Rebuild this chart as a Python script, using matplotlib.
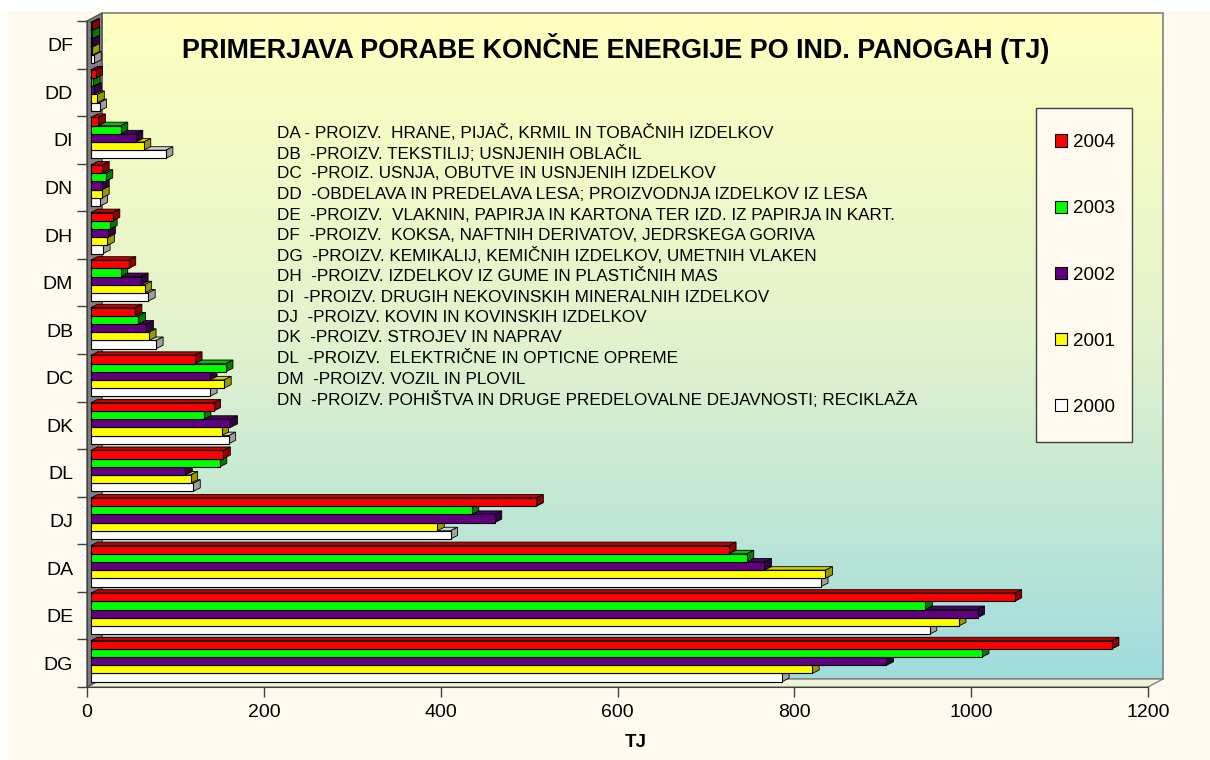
import matplotlib
matplotlib.use("Agg")
import matplotlib.pyplot as plt
import numpy as np
from matplotlib.patches import Polygon, Rectangle, Patch
from matplotlib import transforms

plt.rcParams['font.family'] = ['Liberation Sans', 'DejaVu Sans']

# ---------------- data ----------------
categories = ["DG", "DE", "DA", "DJ", "DL", "DK", "DC", "DB", "DM", "DH", "DN", "DI", "DD", "DF"]
years = ["2000", "2001", "2002", "2003", "2004"]
v2000 = [782, 949, 826, 407, 116, 156, 135, 74, 65, 14, 11, 85, 10, 4]
v2001 = [816, 982, 831, 392, 113, 148, 151, 66, 61, 19, 13, 60, 7.5, 2]
v2002 = [900, 1003, 762, 457, 107, 158, 135, 63, 57, 20, 13, 51, 4, 2]
v2003 = [1008, 944, 742, 431, 146, 128, 153, 54, 34, 22, 17, 34, 2.6, 2]
v2004 = [1155, 1045, 722, 504, 150, 139, 118, 50, 43, 25, 13, 8.7, 5.5, 2]
series = [v2000, v2001, v2002, v2003, v2004]

title = "PRIMERJAVA PORABE KONČNE ENERGIJE PO IND. PANOGAH (TJ)"
xlabel = "TJ"
xticks = [0, 200, 400, 600, 800, 1000, 1200]
notes = [
    "DA - PROIZV.  HRANE, PIJAČ, KRMIL IN TOBAČNIH IZDELKOV",
    "DB  -PROIZV. TEKSTILIJ; USNJENIH OBLAČIL",
    "DC  -PROIZ. USNJA, OBUTVE IN USNJENIH IZDELKOV",
    "DD  -OBDELAVA IN PREDELAVA LESA; PROIZVODNJA IZDELKOV IZ LESA",
    "DE  -PROIZV.  VLAKNIN, PAPIRJA IN KARTONA TER IZD. IZ PAPIRJA IN KART.",
    "DF  -PROIZV.  KOKSA, NAFTNIH DERIVATOV, JEDRSKEGA GORIVA",
    "DG  -PROIZV. KEMIKALIJ, KEMIČNIH IZDELKOV, UMETNIH VLAKEN",
    "DH  -PROIZV. IZDELKOV IZ GUME IN PLASTIČNIH MAS",
    "DI  -PROIZV. DRUGIH NEKOVINSKIH MINERALNIH IZDELKOV",
    "DJ  -PROIZV. KOVIN IN KOVINSKIH IZDELKOV",
    "DK  -PROIZV. STROJEV IN NAPRAV",
    "DL  -PROIZV.  ELEKTRIČNE IN OPTICNE OPREME",
    "DM  -PROIZV. VOZIL IN PLOVIL",
    "DN  -PROIZV. POHIŠTVA IN DRUGE PREDELOVALNE DEJAVNOSTI; RECIKLAŽA",
]

front_c = ["#FFFFFF", "#FFFF00", "#600080", "#00FF00", "#FF0000"]
top_c = ["#D0D0D0", "#CCCC00", "#4A0066", "#00C000", "#C00000"]
side_c = ["#A0A0A0", "#999900", "#330044", "#008000", "#900000"]

# ---------------- layout ----------------
W, H = 1210, 760
fig = plt.figure(figsize=(W / 100, H / 100), dpi=100)
fig.patch.set_facecolor("white")

def fx(x):
    return x / W

def fy(y):
    return 1 - y / H

# cream chart area
fig.patches.append(Rectangle((fx(8), 0), 1 - fx(8), fy(11), transform=fig.transFigure,
                             facecolor="#FFFAF0", edgecolor="none", zorder=-5))

L, R, T, B = 87, 1148, 21, 687
ax = fig.add_axes([fx(L), fy(B), (R - L) / W, (B - T) / H])
ax.set_zorder(1)
ax.set_facecolor("none")
ncat = len(categories)
xmin, xmax = 0, 1200
ymin, ymax = -0.5, ncat - 0.5
sx = (xmax - xmin) / (R - L)   # data per px
sy = (ymax - ymin) / (B - T)

# back wall (gradient)
wdx, wdy = 15 * sx, 8 * sy
grad = np.linspace(0, 1, 256)
top_rgb = np.array([255, 255, 192]) / 255
mid_rgb = np.array([225, 242, 205]) / 255
bot_rgb = np.array([160, 220, 222]) / 255
img = np.zeros((256, 1, 3))
for i, t in enumerate(grad):
    if t < 0.5:
        img[i, 0] = top_rgb + (mid_rgb - top_rgb) * (t / 0.5)
    else:
        img[i, 0] = mid_rgb + (bot_rgb - mid_rgb) * ((t - 0.5) / 0.5)
ax.imshow(img, extent=[xmin + wdx, xmax + wdx, ymin + wdy, ymax + wdy], origin="upper",
          aspect="auto", zorder=0.1, clip_on=False, interpolation="bilinear")
ax.add_patch(Rectangle((xmin + wdx, ymin + wdy), xmax - xmin, ymax - ymin, fill=False,
                       edgecolor="#808080", lw=1.2, zorder=0.2, clip_on=False))
# floor
ax.add_patch(Polygon([(xmin, ymin), (xmax, ymin), (xmax + wdx, ymin + wdy), (xmin + wdx, ymin + wdy)],
                     closed=True, facecolor="#EEF6D8", edgecolor="#808080", lw=1, zorder=0.3, clip_on=False))
# left side wall
ax.add_patch(Polygon([(xmin, ymin), (xmin, ymax), (xmin + wdx, ymax + wdy), (xmin + wdx, ymin + wdy)],
                     closed=True, facecolor="#808080", edgecolor="#505050", lw=1, zorder=0.4, clip_on=False))

# bars
off = transforms.ScaledTranslation(3.7 / 100, 2 / 100, fig.dpi_scale_trans)
tr = ax.transData + off
ddx, ddy = 7 * sx, 3.5 * sy
group = 0.86
bh = group / len(series)
ypos = np.arange(ncat)
z = 1.0
containers = []
for s, vals in enumerate(series):
    yc = ypos - group / 2 + bh * (s + 0.5)
    cont = ax.barh(yc, vals, height=bh, color=front_c[s], edgecolor="black", lw=0.8, label=years[s])
    containers.append(cont)
for c in range(ncat):
    for s, vals in enumerate(series):
        v = vals[c]
        yb = c - group / 2 + bh * s
        yt = yb + bh
        p = containers[s].patches[c]
        p.set_transform(tr)
        p.set_clip_on(False)
        topf = Polygon([(0, yt), (v, yt), (v + ddx, yt + ddy), (ddx, yt + ddy)], closed=True,
                       facecolor=top_c[s], edgecolor="black", lw=0.6, transform=tr, clip_on=False, zorder=z)
        sidef = Polygon([(v, yb), (v, yt), (v + ddx, yt + ddy), (v + ddx, yb + ddy)], closed=True,
                        facecolor=side_c[s], edgecolor="black", lw=0.6, transform=tr, clip_on=False, zorder=z)
        ax.add_patch(topf)
        ax.add_patch(sidef)
        p.set_zorder(z + 0.0005)
        z += 0.001

ax.set_xlim(xmin, xmax)
ax.set_ylim(ymin, ymax)
ax.set_xticks(xticks)
ax.set_xticklabels([str(t) for t in xticks], fontsize=14)
ax.set_yticks(np.arange(ncat + 1) - 0.5)
ax.set_yticklabels([])
ax.set_yticks(ypos, minor=True)
ax.set_yticklabels(categories, minor=True, fontsize=14)
ax.tick_params(axis="y", which="minor", length=0, pad=10)
ax.tick_params(axis="y", which="major", length=7, color="#404040", width=1)
ax.tick_params(axis="x", length=7, color="#404040", width=1, pad=5)
for sp in ["top", "right"]:
    ax.spines[sp].set_visible(False)
ax.spines["left"].set_color("#404040")
ax.spines["bottom"].set_color("#404040")
ax.spines["left"].set_zorder(0.5)
ax.set_xlabel(xlabel, fontsize=13.5, fontweight="bold")
ax.xaxis.set_label_coords((636 - L) / (R - L), (B - 734) / (B - T))

# title
fig.text(fx(616), fy(49), title, ha="center", va="center", fontsize=19.4, fontweight="bold", zorder=5)

# notes
for i, line in enumerate(notes):
    fig.text(fx(277), fy(133 + i * 20.5), line, ha="left", va="center", fontsize=12.3, zorder=5)

# legend
ax.add_patch(Rectangle((fx(1036), fy(442)), (1132 - 1036) / W, (442 - 108) / H,
                       transform=fig.transFigure, facecolor="#FFFAF0", edgecolor="#404040",
                       lw=1, zorder=9, clip_on=False))
handles = [Patch(facecolor=front_c[s], edgecolor="black", lw=0.8) for s in range(len(years))][::-1]
leg = ax.legend(handles, years[::-1], loc="center", bbox_to_anchor=(fx(1085), fy(275)),
                bbox_transform=fig.transFigure, frameon=False, fontsize=13.5,
                handlelength=0.65, handleheight=0.65, handletextpad=0.35, labelspacing=2.62)
leg.set_zorder(10)

fig.savefig("out.png", dpi=100, facecolor=fig.get_facecolor())
